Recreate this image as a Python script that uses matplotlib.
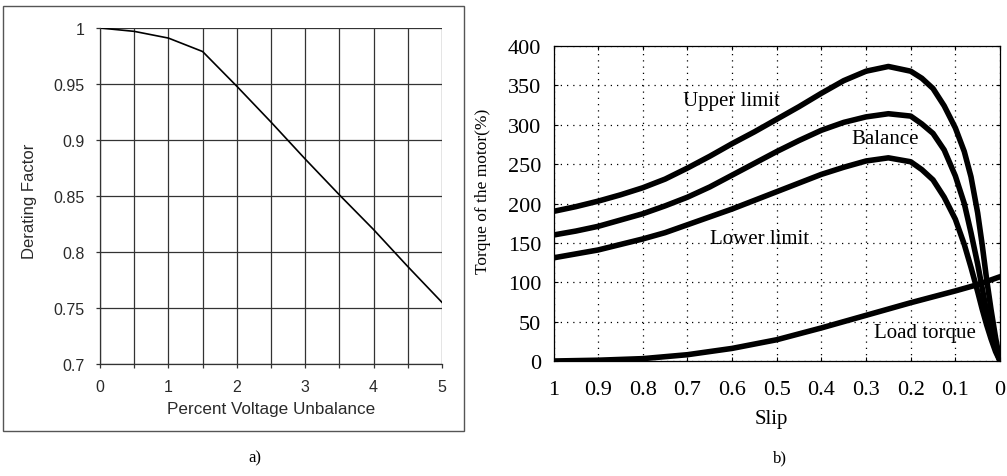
import matplotlib
matplotlib.use("Agg")
import matplotlib.pyplot as plt
from matplotlib.patches import Rectangle

# (a) Derating factor vs. percent voltage unbalance
unbalance = [0, 0.5, 1.0, 1.5, 2.0, 2.5, 3.0, 3.5, 4.0, 4.5, 5.0]
derating = [1.0, 0.997, 0.991, 0.979, 0.948, 0.916, 0.883, 0.851, 0.820, 0.787, 0.755]
a_xticks = [0, 1, 2, 3, 4, 5]
a_yticks = [0.7, 0.75, 0.8, 0.85, 0.9, 0.95, 1.0]
a_yticklabels = ["0.7", "0.75", "0.8", "0.85", "0.9", "0.95", "1"]

# (b) Torque-slip characteristics
slip = [1.0, 0.95, 0.9, 0.85, 0.8, 0.75, 0.7, 0.65, 0.6, 0.55, 0.5, 0.45,
        0.4, 0.35, 0.3, 0.25, 0.2, 0.175, 0.15, 0.125, 0.1, 0.08, 0.065,
        0.05, 0.04, 0.03, 0.02, 0.01, 0.0]
upper_limit = [190, 196, 203, 211, 220, 231, 245, 260, 276, 291, 307, 323,
               340, 356, 368, 374, 368, 359, 346, 324, 296, 266, 234,
               188, 148, 104, 65, 30, 0]
balance = [160, 165, 171, 179, 187, 197, 208, 221, 236, 251, 266, 280,
           293, 303, 310, 314, 311, 301, 289, 268, 235, 200, 163,
           123, 93, 63, 36, 15, 0]
lower_limit = [131, 136, 141, 148, 155, 163, 173, 183, 193, 204, 215, 226,
               237, 246, 254, 258, 253, 243, 230, 208, 180, 148, 119,
               88, 66, 46, 28, 12, 0]
load_slip = [1.0, 0.9, 0.8, 0.7, 0.6, 0.5, 0.4, 0.3, 0.2, 0.1, 0.05, 0.0]
load_torque = [0, 1, 3, 8, 16, 27, 42, 58, 74, 89, 97, 107]
b_xticks = [1, 0.9, 0.8, 0.7, 0.6, 0.5, 0.4, 0.3, 0.2, 0.1, 0]
b_xticklabels = ["1", "0.9", "0.8", "0.7", "0.6", "0.5", "0.4", "0.3", "0.2", "0.1", "0"]
b_yticks = [0, 50, 100, 150, 200, 250, 300, 350, 400]

curve_labels = ["Upper limit", "Balance", "Lower limit", "Load torque"]
label_pos = [(0.6025, 331), (0.2576, 282), (0.5386, 155), (0.168, 36)]

W, H = 1007, 477
fig = plt.figure(figsize=(W / 100, H / 100), dpi=100)

sans = ["Liberation Sans", "DejaVu Sans"]
serif = ["Liberation Serif", "DejaVu Serif"]
gray = "#2a2a2a"

# ---------- panel (a) ----------
fig.patches.append(Rectangle((3 / W, (H - 432) / H), 461 / W, 425 / H,
                             transform=fig.transFigure, fill=False,
                             edgecolor="#555555", linewidth=1.0))

ax1 = fig.add_axes([100 / W, (H - 365) / H, 342 / W, 336 / H])
ax1.plot(unbalance, derating, color="black", linewidth=1.2)
ax1.set_xlim(0, 5)
ax1.set_ylim(0.7, 1.0)
ax1.set_xticks(a_xticks)
ax1.set_xticks([0.5, 1.5, 2.5, 3.5, 4.5], minor=True)
ax1.set_yticks(a_yticks)
ax1.set_yticklabels(a_yticklabels)
ax1.grid(True, which="both", color="#333333", linewidth=0.9)
ax1.tick_params(which="both", direction="out", length=3, width=0.9,
                color="#333333", labelcolor=gray, labelsize=11.5, pad=8)
for t in ax1.get_xticklabels() + ax1.get_yticklabels():
    t.set_fontfamily(sans)
for s in ax1.spines.values():
    s.set_color("#333333")
    s.set_linewidth(0.9)
ax1.spines["top"].set_visible(False)
ax1.spines["right"].set_visible(False)
ax1.set_xlabel("Percent Voltage Unbalance", fontsize=12.3, family=sans,
               color=gray, va="center")
ax1.xaxis.set_label_coords(0.5, -0.131)
ax1.set_ylabel("Derating Factor", fontsize=12, family=sans, color=gray,
               va="center")
ax1.yaxis.set_label_coords(-0.205, 0.488)

# ---------- panel (b) ----------
ax2 = fig.add_axes([553.5 / W, (H - 362) / H, 446.5 / W, 315 / H])
for ys in (upper_limit, balance, lower_limit):
    ax2.plot(slip, ys, color="black", linewidth=4, solid_capstyle="round",
             solid_joinstyle="round")
ax2.plot(load_slip, load_torque, color="black", linewidth=4,
         solid_capstyle="round", solid_joinstyle="round")
ax2.set_xlim(1, 0)
ax2.set_ylim(0, 400)
ax2.set_xticks(b_xticks)
ax2.set_xticklabels(b_xticklabels)
ax2.set_yticks(b_yticks)
ax2.grid(True, color="black", linestyle=(0, (1, 4)), linewidth=0.9)
ax2.tick_params(direction="in", length=3, width=0.8, top=True, right=True,
                labelsize=16)
ax2.tick_params(axis="x", pad=14)
ax2.tick_params(axis="y", pad=9)
for t in ax2.get_xticklabels() + ax2.get_yticklabels():
    t.set_fontfamily(serif)
for s in ax2.spines.values():
    s.set_linewidth(0.9)
for text, (sx, sy) in zip(curve_labels, label_pos):
    ax2.text(sx, sy, text, fontsize=15, family=serif, ha="center",
             va="center")
ax2.set_xlabel("Slip", fontsize=15, family=serif, va="center")
ax2.xaxis.set_label_coords(0.487, -0.181)
ax2.set_ylabel("Torque of the motor(%)", fontsize=12.5, family=serif,
               va="center")
ax2.yaxis.set_label_coords(-0.158, 0.541)

# ---------- captions ----------
fig.text(255 / W, (H - 458) / H, "a)", fontsize=12, family=serif,
         ha="center", va="center")
fig.text(780 / W, (H - 458) / H, "b)", fontsize=12, family=serif,
         ha="center", va="center")

fig.savefig("out.png", dpi=100)
